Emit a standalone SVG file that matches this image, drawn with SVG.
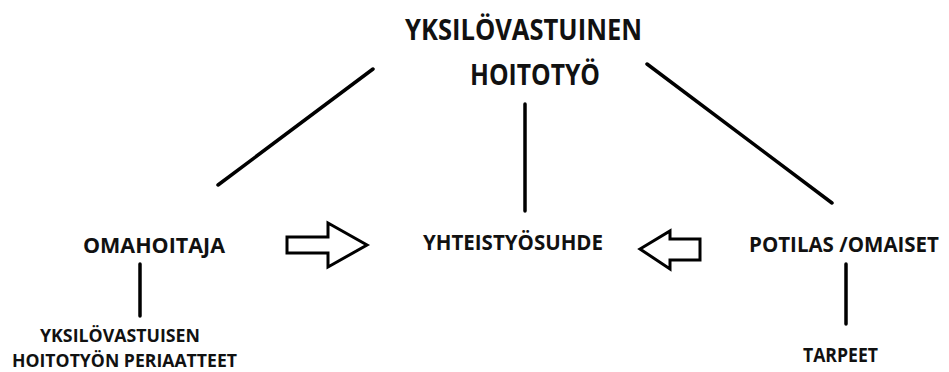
<svg xmlns="http://www.w3.org/2000/svg" width="949" height="372" viewBox="0 0 949 372">
  <style>
    .t { font-family: "Open Sans", "Liberation Sans", sans-serif; font-weight: bold; fill: #111; }
    .ln { stroke: #000; stroke-width: 3.5; stroke-linecap: round; fill: none; }
    .arr { stroke: #000; stroke-width: 3; stroke-linejoin: miter; fill: #fff; }
  </style>
  <rect width="949" height="372" fill="#fff"/>

  <g id="connectors">
    <line class="ln" x1="373" y1="69" x2="218" y2="185"/>
    <line class="ln" x1="525" y1="104" x2="525" y2="211"/>
    <line class="ln" x1="647" y1="64" x2="832" y2="203"/>
    <line class="ln" x1="140" y1="264" x2="140" y2="316"/>
    <line class="ln" x1="846" y1="264" x2="846" y2="324"/>
    <path class="arr" d="M287,237 H328 V223 L367,245 L328,267 V253 H287 Z"/>
    <path class="arr" d="M700,239 H670 V231 L640,249 L670,269 V260 H700 Z"/>
  </g>

  <g id="root">
    <text class="t" x="405" y="40" font-size="29" textLength="237" lengthAdjust="spacingAndGlyphs">YKSILÖVASTUINEN</text>
    <text class="t" x="470" y="85" font-size="29" textLength="130" lengthAdjust="spacingAndGlyphs">HOITOTYÖ</text>
  </g>

  <g id="omahoitaja">
    <text class="t" x="83" y="253" font-size="22" textLength="142" lengthAdjust="spacingAndGlyphs">OMAHOITAJA</text>
  </g>

  <g id="periaatteet">
    <text class="t" x="40" y="342" font-size="18" textLength="160" lengthAdjust="spacingAndGlyphs">YKSILÖVASTUISEN</text>
    <text class="t" x="12" y="367" font-size="18" textLength="225" lengthAdjust="spacingAndGlyphs">HOITOTYÖN PERIAATTEET</text>
  </g>

  <g id="yhteistyosuhde">
    <text class="t" x="423" y="250" font-size="22" textLength="180" lengthAdjust="spacingAndGlyphs">YHTEISTYÖSUHDE</text>
  </g>

  <g id="potilas">
    <text class="t" x="749" y="252" font-size="21" textLength="190" lengthAdjust="spacingAndGlyphs">POTILAS /OMAISET</text>
  </g>

  <g id="tarpeet">
    <text class="t" x="803" y="362" font-size="19" textLength="75" lengthAdjust="spacingAndGlyphs">TARPEET</text>
  </g>
</svg>
